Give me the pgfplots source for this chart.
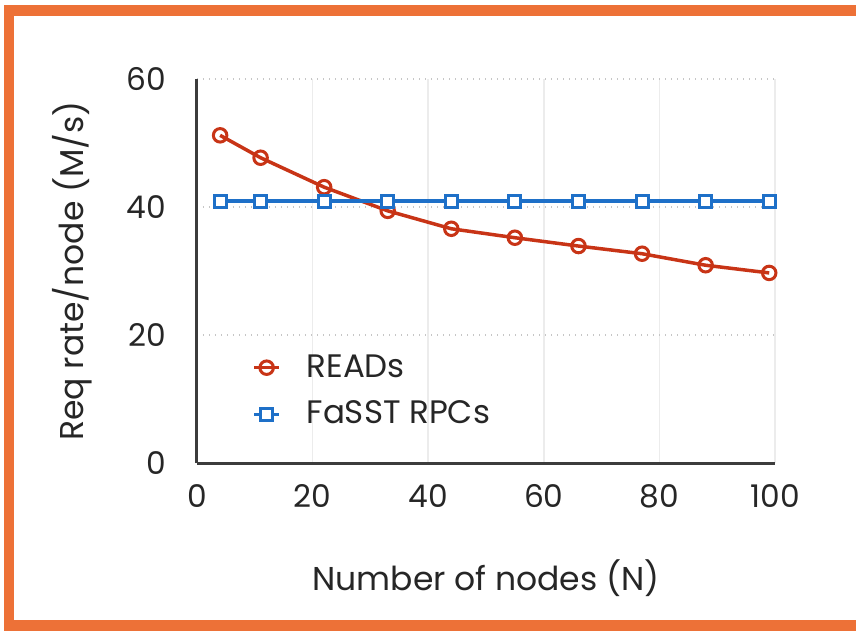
\documentclass[border=0pt]{standalone}
\usepackage{fontspec}
\setmainfont{Poppins}
\usepackage{pgfplots}
\pgfplotsset{compat=1.18}

\definecolor{frameorange}{RGB}{237,113,55}
\definecolor{readred}{RGB}{200,52,22}
\definecolor{rpcblue}{RGB}{30,112,200}
\definecolor{axisgray}{RGB}{60,60,60}

\newcommand{\tickfont}{\fontsize{12.5}{15}\selectfont}
\newcommand{\labfont}{\fontsize{13.2}{15}\selectfont}
\newcommand{\legfont}{\fontsize{13}{15}\selectfont}

\begin{document}
\begin{tikzpicture}
\path[use as bounding box] (-78.8pt,-67.2pt) rectangle (263.6pt,185.2pt);
\fill[white] (-78.8pt,-67.2pt) rectangle (263.6pt,185.2pt);
\draw[frameorange, line width=4.2pt] (263.6pt,181pt) -- (-75.2pt,181pt) -- (-75.2pt,-65pt) -- (263.6pt,-65pt);
\begin{axis}[
  scale only axis,
  width=231.2pt, height=153.6pt,
  xmin=0, xmax=100, ymin=0, ymax=60,
  xtick={0,20,...,100}, ytick={0,20,40,60},
  axis x line=bottom, axis y line=left,
  axis line style={-, axisgray, line width=1.2pt},
  major tick length=0pt,
  xmajorgrids, ymajorgrids,
  x grid style={gray!15, line width=0.6pt},
  y grid style={gray!45, dotted, line width=0.6pt},
  /pgf/number format/assume math mode=true,
  tick label style={font=\tickfont, text=black!85},
  yticklabel style={xshift=-9pt},
  xticklabel style={yshift=-5pt},
  label style={font=\labfont, text=black!85},
  xlabel={Number of nodes (N)},
  ylabel={Req rate/node (M/s)},
  xlabel style={at={(axis description cs:0.5,-0.30)}, anchor=center},
  ylabel style={at={(axis description cs:-0.216,0.5)}, anchor=center},
  legend style={draw=none, fill=none, font=\legfont, text=black!85,
    at={(axis description cs:0.082,0.31)}, anchor=north west,
    row sep=4pt, legend cell align=left},
  legend image code/.code={
    \path[draw=none] (0pt,0pt) -- (19pt,0pt);
    \draw[#1] (0pt,0pt) -- (10pt,0pt);
    \draw[#1,mark repeat=1] plot coordinates {(5pt,0pt)};
  },
]
\addplot[readred, line width=1.4pt, mark=o, mark size=2.7pt,
  mark options={fill=white, line width=1.2pt}] coordinates {
(4,51.2)(11,47.7)(22,43.1)(33,39.4)(44,36.6)(55,35.2)(66,33.9)(77,32.7)(88,30.9)(99,29.7)
};
\addlegendentry{READs}
\addplot[rpcblue, line width=1.4pt, mark=square*, mark size=2.4pt,
  mark options={fill=white, line width=1.2pt}] coordinates {
(4,40.9)(11,40.9)(22,40.9)(33,40.9)(44,40.9)(55,40.9)(66,40.9)(77,40.9)(88,40.9)(99,40.9)
};
\addlegendentry{FaSST RPCs}
\end{axis}
\end{tikzpicture}
\end{document}
